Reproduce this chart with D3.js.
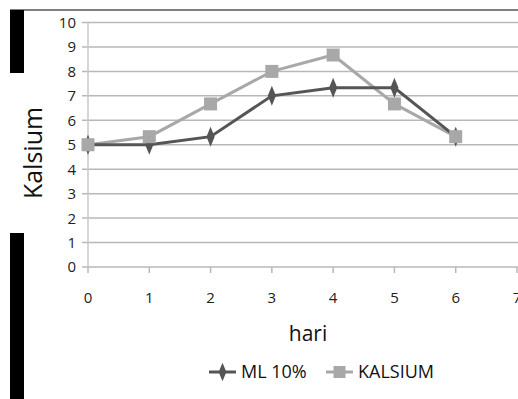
<!DOCTYPE html>
<html>
<head>
<meta charset="utf-8">
<script src="https://cdn.jsdelivr.net/npm/d3@7"></script>
<style>
  body { margin: 0; background: #fff; }
  text { font-family: "Open Sans", sans-serif; }
</style>
</head>
<body>
<div id="chart"></div>
<script>
// data
var days = [0, 1, 2, 3, 4, 5, 6];
var ml10 = [5, 5, 5.33, 7, 7.33, 7.33, 5.33];
var kalsium = [5, 5.33, 6.67, 8, 8.67, 6.67, 5.33];
var yTicks = [0, 1, 2, 3, 4, 5, 6, 7, 8, 9, 10];
var xTicks = [0, 1, 2, 3, 4, 5, 6, 7];
var seriesNames = ["ML 10%", "KALSIUM"];

var W = 518, H = 399;
var svg = d3.select("#chart").append("svg")
  .attr("width", W).attr("height", H);

// frame bits around the chart
svg.append("line")
  .attr("x1", 10).attr("x2", W).attr("y1", 10).attr("y2", 10)
  .attr("stroke", "#555").attr("stroke-width", 1.5);
svg.append("rect").attr("x", 10).attr("y", 10).attr("width", 14).attr("height", 63).attr("fill", "#000");
svg.append("rect").attr("x", 10).attr("y", 233).attr("width", 14).attr("height", H - 233).attr("fill", "#000");

var x = d3.scaleLinear().domain([0, 7]).range([88, 517]);
var y = d3.scaleLinear().domain([0, 10]).range([267, 22.5]);

// gridlines
svg.append("g")
  .selectAll("line")
  .data(yTicks)
  .enter()
  .append("line")
    .attr("x1", 82).attr("x2", W)
    .attr("y1", function(d) { return y(d); })
    .attr("y2", function(d) { return y(d); })
    .attr("stroke", "#b8b8b8").attr("stroke-width", 1.5);

// y axis line
svg.append("line")
  .attr("x1", x(0)).attr("x2", x(0)).attr("y1", y(10)).attr("y2", y(0))
  .attr("stroke", "#c8c8c8").attr("stroke-width", 1.5);

// y tick labels
svg.append("g")
  .selectAll("text")
  .data(yTicks)
  .enter()
  .append("text")
    .attr("x", 76)
    .attr("y", function(d) { return y(d); })
    .attr("dy", "0.36em")
    .attr("text-anchor", "end")
    .attr("font-size", "15px")
    .attr("fill", "#222")
    .text(function(d) { return d; });

// x axis ticks
svg.append("g")
  .selectAll("line")
  .data(xTicks)
  .enter()
  .append("line")
    .attr("x1", function(d) { return x(d); })
    .attr("x2", function(d) { return x(d); })
    .attr("y1", y(0)).attr("y2", y(0) + 6)
    .attr("stroke", "#b8b8b8").attr("stroke-width", 1.5);

svg.append("g")
  .selectAll("text")
  .data(xTicks)
  .enter()
  .append("text")
    .attr("x", function(d) { return x(d); })
    .attr("y", 298)
    .attr("dy", "0.36em")
    .attr("text-anchor", "middle")
    .attr("font-size", "15px")
    .attr("fill", "#222")
    .text(function(d) { return d; });

// axis titles
svg.append("text")
  .attr("transform", "translate(42,153) rotate(-90)")
  .attr("text-anchor", "middle")
  .attr("font-size", "25px")
  .attr("fill", "#111")
  .text("Kalsium");

svg.append("text")
  .attr("x", 308).attr("y", 341)
  .attr("text-anchor", "middle")
  .attr("font-size", "21px")
  .attr("fill", "#111")
  .text("hari");

var line = d3.line()
  .x(function(d, i) { return x(days[i]); })
  .y(function(d) { return y(d); });

var diamond = d3.symbol().type(d3.symbolDiamond).size(80);

// KALSIUM series (drawn first, ML 10% on top where they meet)
svg.append("path")
  .datum(kalsium)
  .attr("d", line)
  .attr("fill", "none")
  .attr("stroke", "#a8a8a8").attr("stroke-width", 3);

svg.append("path")
  .datum(ml10)
  .attr("d", line)
  .attr("fill", "none")
  .attr("stroke", "#555").attr("stroke-width", 3);

svg.append("g")
  .selectAll("path")
  .data(ml10)
  .enter()
  .append("path")
    .attr("d", diamond)
    .attr("transform", function(d, i) { return "translate(" + x(days[i]) + "," + y(d) + ") scale(0.85,1.2)"; })
    .attr("fill", "#555");

svg.append("g")
  .selectAll("rect")
  .data(kalsium)
  .enter()
  .append("rect")
    .attr("x", function(d, i) { return x(days[i]) - 6.5; })
    .attr("y", function(d) { return y(d) - 6.5; })
    .attr("width", 13).attr("height", 13)
    .attr("fill", "#a8a8a8");

// legend
var legend = svg.append("g").attr("transform", "translate(0,372)");
var legX = [209, 326];
var legColors = ["#555", "#a8a8a8"];
seriesNames.forEach(function(name, i) {
  var g = legend.append("g").attr("transform", "translate(" + legX[i] + ",0)");
  g.append("line").attr("x1", 0).attr("x2", 27).attr("y1", 0).attr("y2", 0)
    .attr("stroke", legColors[i]).attr("stroke-width", 3);
  if (i === 0) {
    g.append("path").attr("d", diamond)
      .attr("transform", "translate(13.5,0) scale(0.8,1.1)")
      .attr("fill", legColors[i]);
  } else {
    g.append("rect").attr("x", 7.5).attr("y", -6).attr("width", 12).attr("height", 12)
      .attr("fill", legColors[i]);
  }
  g.append("text").attr("x", 32).attr("y", 0).attr("dy", "0.36em")
    .attr("font-size", "18px").attr("fill", "#111")
    .text(name);
});
</script>
</body>
</html>
